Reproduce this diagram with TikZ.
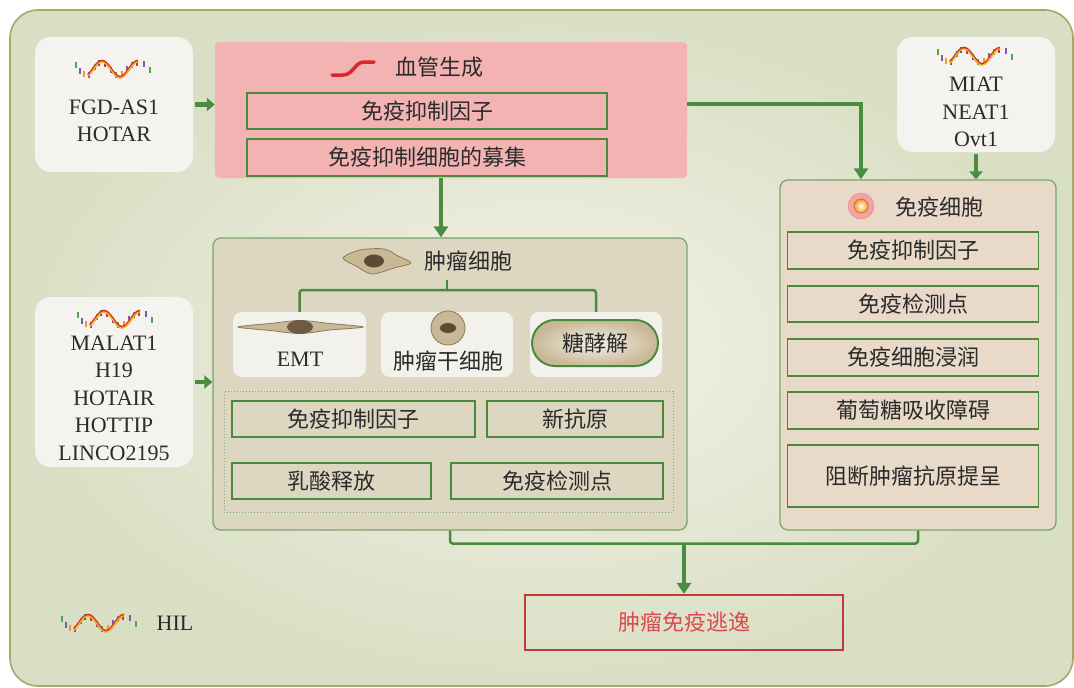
\documentclass[tikz,border=0pt]{standalone}
\usepackage{fontspec}
\setmainfont{Liberation Serif}
\newfontfamily\cjk{Noto Sans CJK SC}
\usetikzlibrary{arrows.meta, positioning}

\definecolor{colorFrame}{HTML}{4A8A3C}
\definecolor{colorArrow}{HTML}{4B8D40}
\definecolor{colorBorder}{HTML}{A8A668}
\definecolor{colorBgIn}{HTML}{F4F2E8}
\definecolor{colorBgOut}{HTML}{D9DFC4}
\definecolor{colorRNA}{HTML}{F4F3EF}
\definecolor{colorAngio}{HTML}{F4B3B3}
\definecolor{colorAngioLine}{HTML}{D8282E}
\definecolor{colorTumor}{HTML}{DDD7C2}
\definecolor{colorImmune}{HTML}{E8D9C8}
\definecolor{colorSub}{HTML}{F3F1EB}
\definecolor{colorText}{HTML}{2B2B2B}
\definecolor{colorEscape}{HTML}{C23A3D}
\definecolor{colorEscapeText}{HTML}{DB4A4E}
\definecolor{colorCell}{HTML}{C9B896}
\definecolor{colorCellEdge}{HTML}{8C7A58}
\definecolor{colorNucleus}{HTML}{5E4A32}
\definecolor{colorImmCell}{HTML}{F1A3A5}
\definecolor{dnaR}{HTML}{D8342A}
\definecolor{dnaO}{HTML}{F29A1F}
\definecolor{dnaY}{HTML}{F2C41C}
\definecolor{dnaG}{HTML}{4FA84A}
\definecolor{dnaV}{HTML}{7A5BA6}
\definecolor{dnaB}{HTML}{3A5FA8}

\tikzset{
  panel/.style={draw=colorFrame!75, line width=1.3, rounded corners=8, inner sep=0},
  rnabox/.style={fill=colorRNA, rounded corners=16, inner sep=0},
  subbox/.style={fill=colorSub, rounded corners=9, inner sep=0},
  item/.style={draw=colorFrame, line width=1.8, inner sep=0, font=\cjk\fontsize{22}{26}\selectfont, text=colorText},
  title/.style={font=\cjk\fontsize{22}{26}\selectfont, text=colorText, inner sep=0},
  lnc/.style={font=\fontsize{22}{27.5}\selectfont, text=colorText, align=center, inner sep=0},
  flow/.style={draw=colorArrow, line width=3.5, -{Triangle[length=11,width=14]}},
  stub/.style={draw=colorArrow, line width=4.5, shorten <=2, -{Triangle[length=8,width=13]}},
  link/.style={draw=colorFrame, line width=2.5, rounded corners=3},
  cell/.style={fill=colorCell, draw=colorCellEdge, line width=0.8},
  % small lncRNA strand with base ticks
  dna/.pic={
    \foreach \bx/\by/\bc in {-38/-4/dnaG,-34/2/dnaV,-30/5/dnaO,-25/6/dnaV,-19/-2/dnaG,-15/-6/dnaB,
                             -9/-5/dnaR,-3/1/dnaV,2/6/dnaG,8/5/dnaO,13/0/dnaV,18/-4/dnaG,23/-6/dnaR,30/-5/dnaV,36/1/dnaG}
      \draw[line width=1.5,\bc] (\bx,\by-3) -- (\bx,\by+3);
    \draw[line width=2.6,dnaR,domain=-26:24,samples=40] plot (\x,{-8*sin(10*(\x+21))});
    \draw[line width=1.1,dnaY,domain=-26:24,samples=40] plot (\x,{-8*sin(10*(\x+21))+1});
  }
}

\begin{document}
\begin{tikzpicture}[x=1pt, y=-1pt]
\useasboundingbox (0,0) rectangle (1074,688);
\fill[white] (0,0) rectangle (1074,688);
\path[draw=colorBorder, line width=1.6, rounded corners=28, inner color=colorBgIn, outer color=colorBgOut] (10,10) rectangle (1073,686);

% lncRNA boxes
\node[rnabox, minimum width=158, minimum height=135] (fgd) at (114,104.5) {};
\pic at (114,69) {dna};
\node[lnc] (fgdtxt) at (114,121) {FGD-AS1\\HOTAR};

\node[rnabox, minimum width=158, minimum height=170] (malat) at (114,382) {};
\pic at (116,319) {dna};
\node[lnc] (malattxt) at (114,398) {MALAT1\\H19\\HOTAIR\\HOTTIP\\LINCO2195};

\node[rnabox, minimum width=158, minimum height=115] (miat) at (976,94.5) {};
\pic at (976,56) {dna};
\node[lnc] (miattxt) at (976,112) {MIAT\\NEAT1\\Ovt1};

% angiogenesis
\node[fill=colorAngio, rounded corners=4, inner sep=0, minimum width=472, minimum height=136] (angio) at (451,110) {};
\draw[colorAngioLine, line width=3.5, line cap=round] (332,75) -- (343,75) .. controls (353,75) and (355,62) .. (364,62) -- (374,62);
\node[title] (angiotitle) at (439,67) {血管生成};
\node[item, minimum width=360, minimum height=36] (angio1) at (427,111) {免疫抑制因子};
\node[item, minimum width=360, minimum height=37] (angio2) at (427,157.5) {免疫抑制细胞的募集};

% tumour cell panel
\node[panel, fill=colorTumor, minimum width=474, minimum height=292] (tumor) at (450,384) {};
\draw[cell] plot[smooth cycle] coordinates {(343,258) (360,250) (384,249) (398,256) (411,263) (394,268) (372,274) (356,266)};
\fill[colorNucleus] (374,261) ellipse (10 and 6.5);
\node[title] (tumtitle) at (468,261) {肿瘤细胞};

\node[subbox, minimum width=133, minimum height=65] (emt) at (299.5,344.5) {};
\node[subbox, minimum width=132, minimum height=65] (stemc) at (447,344.5) {};
\node[subbox, minimum width=132, minimum height=65] (glybox) at (596,344.5) {};
\draw[cell] plot[smooth cycle] coordinates {(238,327) (270,323.5) (300,320.5) (330,323.5) (363,327) (330,330) (300,333.5) (270,330.5)};
\fill[colorNucleus!85!colorCell] (300,327) ellipse (13 and 7);
\node[lnc] (emttxt) at (300,359) {EMT};
\draw[cell] (448,328) circle (17);
\fill[colorNucleus] (448,328) ellipse (8 and 5);
\node[title] (stemtxt) at (448,361) {肿瘤干细胞};
\node[draw=colorFrame, line width=2, rounded corners=23, shading=radial, inner color=colorSub, outer color=colorCell,
      minimum width=126, minimum height=46, title] (glyco) at (595,343) {糖酵解};

\coordinate (tb) at (447,290);
\draw[link] (emt.north) |- (tb) -| (glybox.north);
\draw[link] (tb) -- ++(0,-10);

\node[draw=colorFrame!70, dotted, line width=1, inner sep=0, minimum width=449, minimum height=121] (dots) at (448.5,451.5) {};
\node[item, minimum width=243, minimum height=36] (supp) at (353.5,419) {免疫抑制因子};
\node[item, minimum width=176, minimum height=36] (neo) at (575,419) {新抗原};
\node[item, minimum width=199, minimum height=36] (lac) at (331.5,481) {乳酸释放};
\node[item, minimum width=212, minimum height=36] (chk) at (557,481) {免疫检测点};

% immune cell panel
\node[panel, fill=colorImmune, minimum width=276, minimum height=350] (immune) at (918,355) {};
\fill[colorImmCell, draw=colorImmCell!80!red] (861,206) circle (13);
\shade[inner color=white, outer color=dnaO] (861,206) circle (7);
\draw[dnaO!80!black, line width=0.8] (861,206) circle (7);
\coordinate (immicon) at (861,206);
\node[title] (immtitle) at (939,207) {免疫细胞};
\foreach \nm/\yy/\hh/\tx in {im1/250.5/37/免疫抑制因子, im2/304/36/免疫检测点, im3/357.5/37/免疫细胞浸润,
                             im4/410.5/37/葡萄糖吸收障碍, im5/476/62/阻断肿瘤抗原提呈}
  \node[item, minimum width=251, minimum height=\hh] (\nm) at (913,\yy) {\tx};

% outcome
\node[item, draw=colorEscape, line width=2.2, text=colorEscapeText, minimum width=318, minimum height=55] (escape) at (684,622.5) {肿瘤免疫逃逸};

% legend
\pic at (100,623) {dna};
\node[lnc] (hil) at (175,623) {HIL};

% connectors
\draw[stub] (fgd.east) -- (fgd.east -| angio.west);
\draw[stub] (malat.east) -- (malat.east -| tumor.west);
\draw[stub] (miat.south) -- (miat.south |- immune.north);
\draw[flow] ([xshift=-10pt]angio.south) coordinate (a0) -- (a0 |- tumor.north);
\draw[flow] ([yshift=6pt]angio.east) -| (immune.north -| immicon);
\draw[link] (tumor.south) -- ++(0,13) coordinate (jn) -| (immune.south);
\draw[flow, line width=3.8] (escape.north |- jn) -- (escape.north);
\end{tikzpicture}
\end{document}
